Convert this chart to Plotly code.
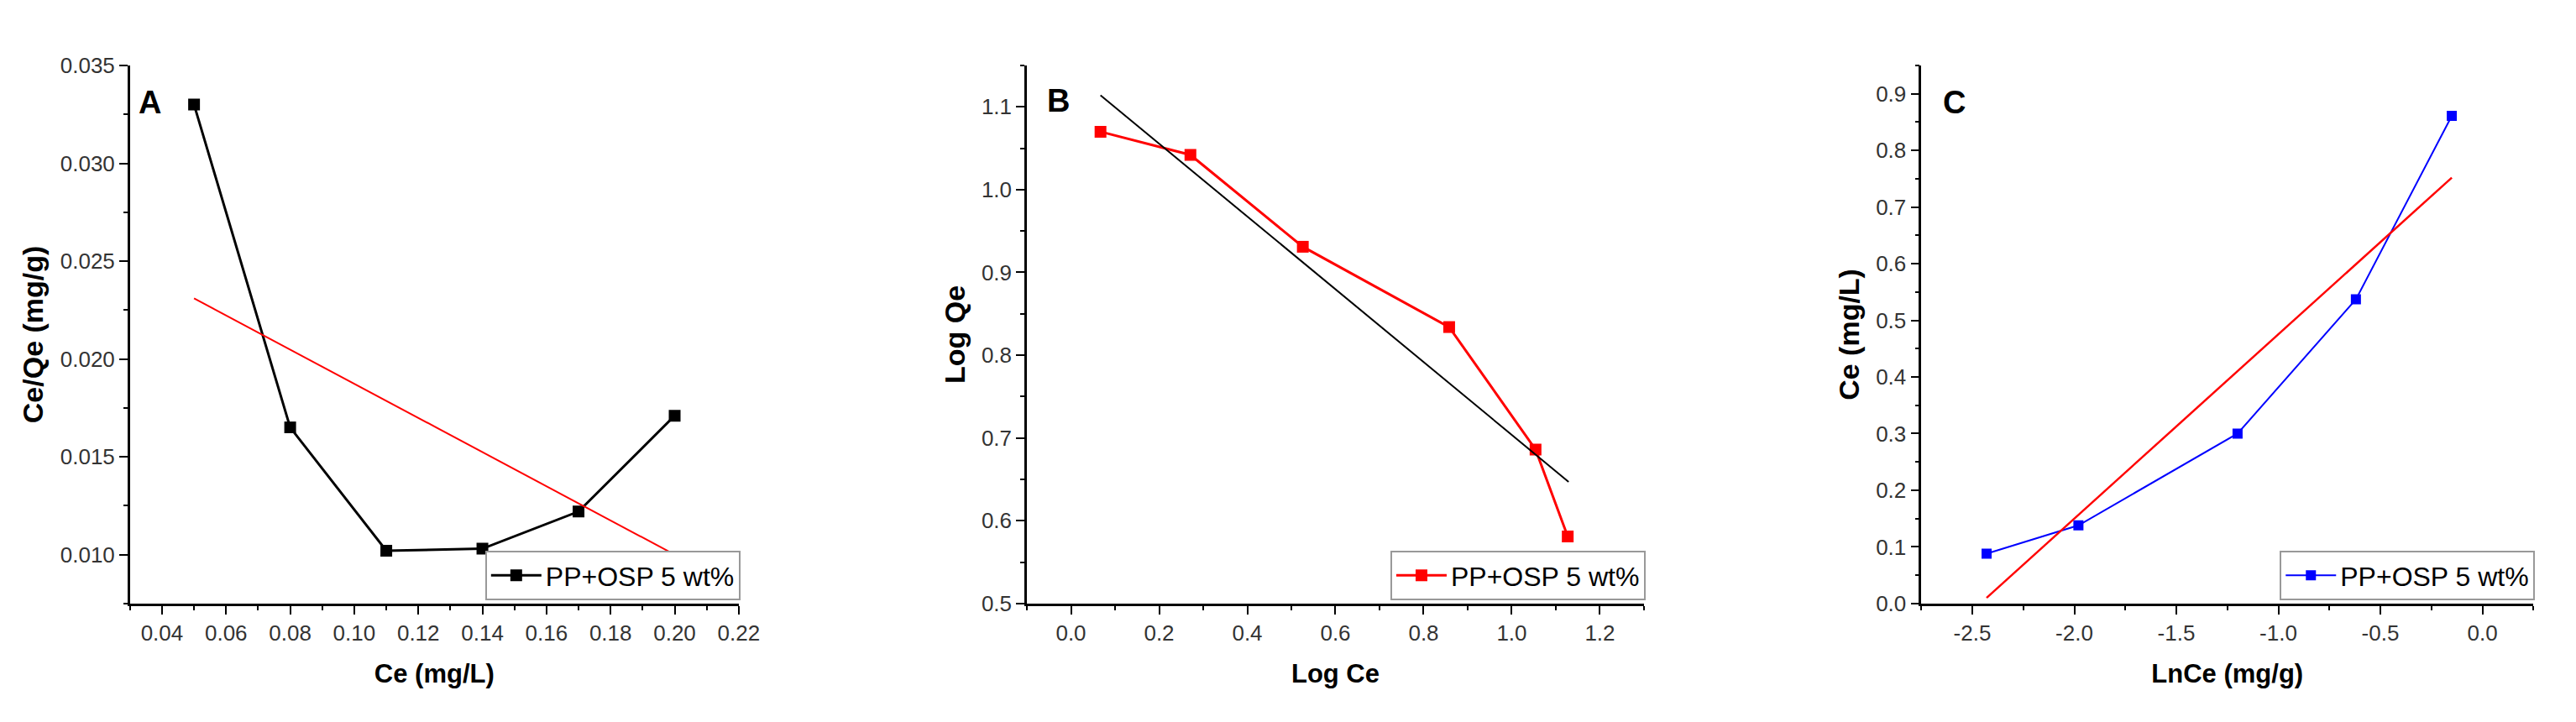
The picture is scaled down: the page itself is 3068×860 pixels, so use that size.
import plotly.graph_objects as go

# Panel A: Ce/Qe vs Ce
ce_a = [0.05, 0.08, 0.11, 0.14, 0.17, 0.20]
ce_qe_a = [0.0330, 0.0165, 0.0102, 0.0103, 0.0122, 0.0171]
fit_a_x = [0.05, 0.20]
fit_a_y = [0.0231, 0.0100]

# Panel B: Log Qe vs Log Ce
log_ce_b = [0.067, 0.271, 0.526, 0.858, 1.054, 1.127]
log_qe_b = [1.070, 1.042, 0.931, 0.834, 0.686, 0.581]
fit_b_x = [0.067, 1.129]
fit_b_y = [1.114, 0.647]

# Panel C: Ce vs LnCe
ln_ce_c = [-2.43, -1.98, -1.20, -0.62, -0.15]
ce_c = [0.088, 0.138, 0.300, 0.537, 0.861]
fit_c_x = [-2.43, -0.15]
fit_c_y = [0.010, 0.752]
# origin-style hyphen minus on the C x axis
c_xtick_vals = [-2.5, -2.0, -1.5, -1.0, -0.5, 0.0]
c_xtick_text = ["-2.5", "-2.0", "-1.5", "-1.0", "-0.5", "0.0"]

series_name = "PP+OSP 5 wt%"
panel_labels = ["A", "B", "C"]

W, H = 3068, 860
FONT = "Arial, Liberation Sans, sans-serif"


def px_x(a, b):
    return [a / W, b / W]


y_dom = [1 - 721 / H, 1 - 57 / H]


def axis_style(rng, dtick, minor_dtick, fmt, domain, title, standoff, title_size):
    return dict(
        range=rng, dtick=dtick, tick0=0, tickformat=fmt, domain=domain,
        showline=True, linecolor="black", linewidth=2.5,
        ticks="outside", ticklen=10, tickwidth=2, tickcolor="black",
        showgrid=False, zeroline=False, fixedrange=True,
        tickfont=dict(family=FONT, size=26, color="#333333"),
        minor=dict(dtick=minor_dtick, tick0=0, ticks="outside", ticklen=5,
                   tickwidth=2, tickcolor="black", showgrid=False),
        title=dict(text=f"<b>{title}</b>", standoff=standoff,
                   font=dict(family=FONT, size=title_size, color="black")),
    )


fig = go.Figure()

# A
fig.add_trace(go.Scatter(x=ce_a, y=ce_qe_a, mode="lines+markers", name=series_name,
                         line=dict(color="black", width=3),
                         marker=dict(symbol="square", size=14, color="black"),
                         xaxis="x", yaxis="y", legend="legend"))
fig.add_trace(go.Scatter(x=fit_a_x, y=fit_a_y, mode="lines", showlegend=False,
                         line=dict(color="#ff0000", width=2), xaxis="x", yaxis="y"))

# B
fig.add_trace(go.Scatter(x=log_ce_b, y=log_qe_b, mode="lines+markers", name=series_name,
                         line=dict(color="#ff0000", width=3),
                         marker=dict(symbol="square", size=14, color="#ff0000"),
                         xaxis="x2", yaxis="y2", legend="legend2"))
fig.add_trace(go.Scatter(x=fit_b_x, y=fit_b_y, mode="lines", showlegend=False,
                         line=dict(color="black", width=2), xaxis="x2", yaxis="y2"))

# C
fig.add_trace(go.Scatter(x=ln_ce_c, y=ce_c, mode="lines+markers", name=series_name,
                         line=dict(color="#0000ff", width=2),
                         marker=dict(symbol="square", size=12, color="#0000ff"),
                         xaxis="x3", yaxis="y3", legend="legend3"))
fig.add_trace(go.Scatter(x=fit_c_x, y=fit_c_y, mode="lines", showlegend=False,
                         line=dict(color="#ff0000", width=2.5), xaxis="x3", yaxis="y3"))

legend_common = dict(
    xanchor="right", yanchor="bottom", y=(H - 717) / H,
    bgcolor="white", bordercolor="#999999", borderwidth=2, itemwidth=60,
    font=dict(family=FONT, size=32, color="black"),
)

fig.update_layout(
    width=W, height=H,
    margin=dict(l=0, r=0, t=0, b=0),
    paper_bgcolor="white", plot_bgcolor="white",
    xaxis=axis_style([0.03, 0.22], 0.02, 0.01, ".2f", px_x(148, 879), "Ce (mg/L)", 24, 31),
    yaxis=axis_style([0.0075, 0.035], 0.005, 0.0025, ".3f", y_dom, "Ce/Qe (mg/g)", 10, 34),
    xaxis2=axis_style([-0.1, 1.3], 0.2, 0.1, ".1f", px_x(1225, 1966), "Log Ce", 24, 31),
    yaxis2=axis_style([0.5, 1.15], 0.1, 0.05, ".1f", y_dom, "Log Qe", 10, 34),
    xaxis3=axis_style([-2.75, 0.25], 0.5, 0.25, ".1f", px_x(2299, 3034), "LnCe (mg/g)", 24, 31),
    yaxis3=axis_style([0, 0.95], 0.1, 0.05, ".1f", y_dom, "Ce (mg/L)", 10, 34),
    legend=dict(x=881 / W, **legend_common),
    legend2=dict(x=1968 / W, **legend_common),
    legend3=dict(x=3036 / W, **legend_common),
)
fig.update_layout(xaxis2_anchor="y2", yaxis2_anchor="x2",
                  xaxis3_anchor="y3", yaxis3_anchor="x3")
fig.update_xaxes(tickmode="array", tickvals=c_xtick_vals, ticktext=c_xtick_text,
                 selector=dict(anchor="y3"))

label_pos = [(0.0363, 0.0331, "x", "y"), (-0.029, 1.107, "x2", "y2"), (-2.59, 0.885, "x3", "y3")]
for text, (lx, ly, xr, yr) in zip(panel_labels, label_pos):
    fig.add_annotation(x=lx, y=ly, xref=xr, yref=yr, text=f"<b>{text}</b>",
                       showarrow=False, font=dict(family=FONT, size=38, color="black"))

fig.write_html("out.html")
